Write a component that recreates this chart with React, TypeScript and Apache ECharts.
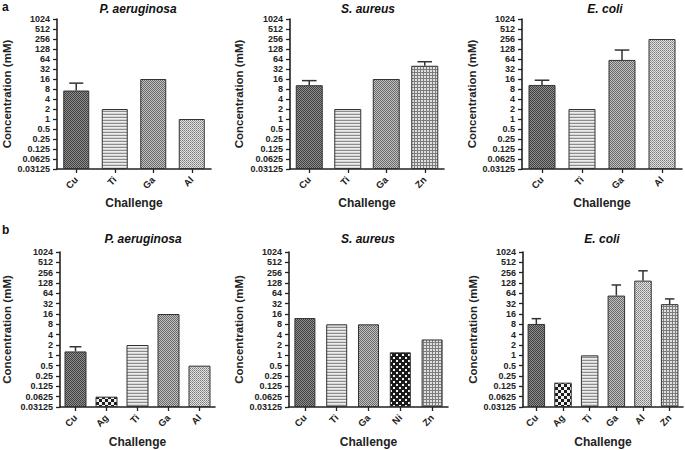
import React, { useEffect, useRef } from 'react';
import * as echarts from 'echarts';

const yTicks = [0.03125, 0.0625, 0.125, 0.25, 0.5, 1, 2, 4, 8, 16, 32, 64, 128, 256, 512, 1024];

const aPaCats = ['Cu', 'Ti', 'Ga', 'Al'];
const aPaVals = [7.2, 2, 16, 1];
const aPaErr = [12, null, null, null];

const aSaCats = ['Cu', 'Ti', 'Ga', 'Zn'];
const aSaVals = [10.4, 2, 16, 40];
const aSaErr = [14.3, null, null, 53];

const aEcCats = ['Cu', 'Ti', 'Ga', 'Al'];
const aEcVals = [10.6, 2, 60, 256];
const aEcErr = [14.7, null, 119, null];

const bPaCats = ['Cu', 'Ag', 'Ti', 'Ga', 'Al'];
const bPaVals = [1.3, 0.0625, 2, 16, 0.5];
const bPaErr = [1.78, null, null, null, null];

const bSaCats = ['Cu', 'Ti', 'Ga', 'Ni', 'Zn'];
const bSaVals = [12.2, 8, 8, 1.22, 2.9];
const bSaErr = [null, null, null, null, null];

const bEcCats = ['Cu', 'Ag', 'Ti', 'Ga', 'Al', 'Zn'];
const bEcVals = [8.2, 0.16, 1, 55, 150, 31];
const bEcErr = [11.7, null, null, 112, 290, 44];

const FONT = 'Liberation Sans, Arial, sans-serif';
const INK = '#222';

function makePattern(w: number, h: number, draw: (ctx: CanvasRenderingContext2D) => void) {
  const c = document.createElement('canvas');
  c.width = w;
  c.height = h;
  const ctx = c.getContext('2d') as CanvasRenderingContext2D;
  draw(ctx);
  return { image: c, repeat: 'repeat' } as any;
}

function px(ctx: CanvasRenderingContext2D, x: number, y: number, w: number, h: number, c: string) {
  ctx.fillStyle = c;
  ctx.fillRect(x, y, w, h);
}

function buildPatterns(): Record<string, any> {
  return {
    Cu: makePattern(2, 2, (g) => {
      px(g, 0, 0, 2, 2, '#8e8e8e');
      px(g, 0, 0, 1, 1, '#404040');
      px(g, 1, 1, 1, 1, '#404040');
    }),
    Ti: makePattern(1, 3, (g) => {
      px(g, 0, 0, 1, 1, '#8c8c8c');
      px(g, 0, 1, 1, 1, '#eeeeee');
      px(g, 0, 2, 1, 1, '#d6d6d6');
    }),
    Ga: makePattern(2, 2, (g) => {
      px(g, 0, 0, 2, 2, '#c0c0c0');
      px(g, 0, 0, 1, 1, '#6a6a6a');
      px(g, 1, 1, 1, 1, '#6a6a6a');
    }),
    Al: makePattern(2, 2, (g) => {
      px(g, 0, 0, 2, 2, '#e2e2e2');
      px(g, 0, 0, 1, 1, '#7a7a7a');
      px(g, 1, 1, 1, 1, '#9a9a9a');
    }),
    Zn: makePattern(3, 3, (g) => {
      px(g, 0, 0, 3, 3, '#e0e0e0');
      px(g, 0, 0, 3, 1, '#7c7c7c');
      px(g, 0, 0, 1, 3, '#7c7c7c');
    }),
    Ag: makePattern(6, 6, (g) => {
      px(g, 0, 0, 6, 6, '#f0f0f0');
      px(g, 0, 0, 3, 3, '#1e1e1e');
      px(g, 3, 3, 3, 3, '#1e1e1e');
    }),
    Ni: makePattern(6, 6, (g) => {
      px(g, 0, 0, 6, 6, '#1a1a1a');
      px(g, 0, 0, 2, 2, '#f2f2f2');
      px(g, 3, 3, 2, 2, '#f2f2f2');
    }),
  };
}

type Panel = {
  title: string;
  cats: string[];
  vals: number[];
  errs: (number | null)[];
  left: number;
  top: number;
  width: number;
  height: number;
  titleX: number;
  titleY: number;
  barWidth: number;
  yNameGap: number;
  xNameGap: number;
};

const panels: Panel[] = [
  { title: 'P. aeruginosa', cats: aPaCats, vals: aPaVals, errs: aPaErr, left: 57, top: 19, width: 154, height: 150, titleX: 138, titleY: 3, barWidth: 26, yNameGap: 44, xNameGap: 28 },
  { title: 'S. aureus', cats: aSaCats, vals: aSaVals, errs: aSaErr, left: 290, top: 19, width: 154, height: 150, titleX: 368, titleY: 3, barWidth: 27, yNameGap: 45, xNameGap: 28 },
  { title: 'E. coli', cats: aEcCats, vals: aEcVals, errs: aEcErr, left: 522, top: 19, width: 160, height: 150, titleX: 605, titleY: 3, barWidth: 27, yNameGap: 44, xNameGap: 28 },
  { title: 'P. aeruginosa', cats: bPaCats, vals: bPaVals, errs: bPaErr, left: 60, top: 252, width: 155, height: 155, titleX: 143, titleY: 233, barWidth: 22, yNameGap: 47, xNameGap: 29 },
  { title: 'S. aureus', cats: bSaCats, vals: bSaVals, errs: bSaErr, left: 289, top: 252, width: 159, height: 155, titleX: 368, titleY: 233, barWidth: 21, yNameGap: 44, xNameGap: 29 },
  { title: 'E. coli', cats: bEcCats, vals: bEcVals, errs: bEcErr, left: 523, top: 252, width: 160, height: 155, titleX: 602, titleY: 233, barWidth: 17.5, yNameGap: 44, xNameGap: 29 },
];

function fmt(v: number) {
  return String(parseFloat(Number(v).toPrecision(6)));
}

export default function App() {
  const ref = useRef<HTMLDivElement>(null);

  useEffect(() => {
    if (!ref.current) return;
    const chart = echarts.init(ref.current, undefined, { renderer: 'svg' });
    const pats = buildPatterns();

    const grid: any[] = [];
    const xAxis: any[] = [];
    const yAxis: any[] = [];
    const series: any[] = [];
    const title: any[] = [
      { text: 'a', left: 2, top: 1, padding: 0, textStyle: { fontSize: 12, fontWeight: 'bold', color: '#111', fontFamily: FONT } },
      { text: 'b', left: 2, top: 224, padding: 0, textStyle: { fontSize: 12, fontWeight: 'bold', color: '#111', fontFamily: FONT } },
    ];

    panels.forEach((p, i) => {
      grid.push({ left: p.left, top: p.top, width: p.width, height: p.height, containLabel: false });
      title.push({
        text: p.title,
        left: p.titleX,
        top: p.titleY,
        padding: 0,
        textAlign: 'center',
        textStyle: { fontSize: 12, fontWeight: 'bold', fontStyle: 'italic', color: '#111', fontFamily: FONT },
      });
      xAxis.push({
        type: 'category',
        gridIndex: i,
        data: p.cats,
        name: 'Challenge',
        nameLocation: 'middle',
        nameGap: p.xNameGap,
        nameTextStyle: { fontSize: 12, fontWeight: 'bold', color: INK, fontFamily: FONT },
        axisLine: { show: true, lineStyle: { color: INK, width: 1.6 } },
        axisTick: { show: true, alignWithLabel: true, length: 4, lineStyle: { color: INK, width: 1.3 } },
        axisLabel: { rotate: 45, interval: 0, fontSize: 9.5, fontWeight: 'bold', color: INK, margin: 9, fontFamily: FONT },
        splitLine: { show: false },
      });
      yAxis.push({
        type: 'log',
        logBase: 2,
        gridIndex: i,
        min: yTicks[0],
        max: yTicks[yTicks.length - 1],
        startValue: yTicks[0],
        name: 'Concentration (mM)',
        nameLocation: 'middle',
        nameGap: p.yNameGap,
        nameTextStyle: { fontSize: 11.5, fontWeight: 'bold', color: INK, fontFamily: FONT },
        axisLine: { show: true, lineStyle: { color: INK, width: 1.6 } },
        axisTick: { show: true, length: 4, lineStyle: { color: INK, width: 1.3 }, customValues: yTicks },
        axisLabel: { customValues: yTicks, interval: 0, formatter: fmt, fontSize: 9, fontWeight: 'bold', color: INK, margin: 7, fontFamily: FONT, hideOverlap: false },
        splitLine: { show: false },
        minorTick: { show: false },
      });

      series.push({
        type: 'bar',
        xAxisIndex: i,
        yAxisIndex: i,
        barWidth: p.barWidth,
        data: p.vals.map((v, k) => ({
          value: v,
          itemStyle: { color: pats[p.cats[k]], borderColor: '#333', borderWidth: 1 },
        })),
      });
      series.push({
        type: 'custom',
        xAxisIndex: i,
        yAxisIndex: i,
        z: 5,
        data: p.errs
          .map((e, k) => (e == null ? null : [k, p.vals[k], e]))
          .filter((d) => d != null),
        renderItem: (params: any, api: any) => {
          const k = api.value(0);
          const v = api.value(1);
          const e = api.value(2);
          const p0 = api.coord([k, v]);
          const p1 = api.coord([k, e]);
          const half = p.barWidth * 0.27;
          const st = { stroke: '#333', lineWidth: 1.5 };
          return {
            type: 'group',
            children: [
              { type: 'line', shape: { x1: p0[0], y1: p0[1], x2: p1[0], y2: p1[1] }, style: st },
              { type: 'line', shape: { x1: p1[0] - half, y1: p1[1], x2: p1[0] + half, y2: p1[1] }, style: st },
            ],
          };
        },
      });
    });

    chart.setOption({
      animation: false,
      backgroundColor: '#ffffff',
      title,
      grid,
      xAxis,
      yAxis,
      series,
    });
    return () => chart.dispose();
  }, []);

  return <div ref={ref} style={{ position: 'fixed', left: 0, top: 0, width: 685, height: 450 }} />;
}
